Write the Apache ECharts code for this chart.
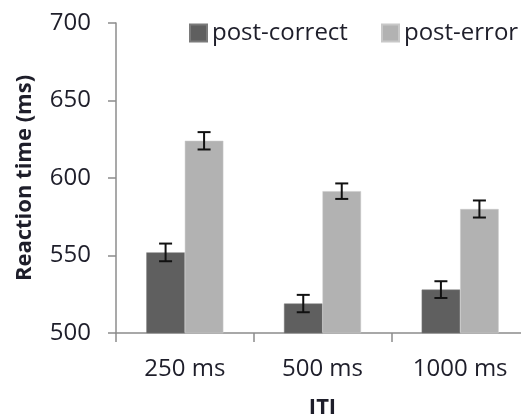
<!DOCTYPE html>
<html>
<head>
<meta charset="utf-8">
<script src="https://cdn.jsdelivr.net/npm/echarts@6/dist/echarts.min.js"></script>
<style>html,body{margin:0;padding:0;background:#fff}#c{width:521px;height:419px}</style>
</head>
<body>
<div id="c"></div>
<script>
const categories = ['250 ms', '500 ms', '1000 ms'];
const postCorrect = [552, 519, 528];
const postCorrectErr = [5.7, 5.6, 5.4];
const postError = [624, 591.5, 580];
const postErrorErr = [5.6, 5.0, 5.5];
const yTicks = [500, 550, 600, 650, 700];

const chart = echarts.init(document.getElementById('c'));
const FONT = 'Open Sans';
const BAR_W = 38.5;
const axisCol = '#8c8c8c';
const txtCol = '#1e1e2a';

function errSeries(name, vals, errs, offset) {
  return {
    type: 'custom',
    name: name + ' err',
    z: 10,
    silent: true,
    data: vals.map((v, i) => [i, v, errs[i]]),
    renderItem: function (params, api) {
      const i = api.value(0), v = api.value(1), e = api.value(2);
      const hi = api.coord([i, v + e]);
      const lo = api.coord([i, v - e]);
      const x = hi[0] + offset;
      const cap = 6.5;
      const st = { stroke: '#111', lineWidth: 2 };
      return {
        type: 'group',
        children: [
          { type: 'line', shape: { x1: x, y1: hi[1], x2: x, y2: lo[1] }, style: st },
          { type: 'line', shape: { x1: x - cap, y1: hi[1], x2: x + cap, y2: hi[1] }, style: st },
          { type: 'line', shape: { x1: x - cap, y1: lo[1], x2: x + cap, y2: lo[1] }, style: st }
        ]
      };
    }
  };
}

const legendBase = {
  itemWidth: 17, itemHeight: 17,
  icon: 'rect',
  top: 16,
  textStyle: { fontFamily: FONT, fontSize: 24, color: txtCol }
};

chart.setOption({
  animation: false,
  textStyle: { fontFamily: FONT },
  grid: { left: 116, top: 23, right: -8, bottom: 86, containLabel: false, outerBoundsMode: 'none' },
  legend: [
    Object.assign({}, legendBase, { data: ['post-correct'], left: 184 }),
    Object.assign({}, legendBase, { data: ['post-error'], left: 376 })
  ],
  xAxis: {
    type: 'category',
    data: categories,
    name: 'ITI',
    nameLocation: 'middle',
    nameGap: 64,
    nameTextStyle: { fontFamily: FONT, fontSize: 22, fontWeight: 'bold', color: txtCol },
    axisLine: { lineStyle: { color: axisCol, width: 1.5 } },
    axisTick: { show: true, length: 9, lineStyle: { color: axisCol, width: 1.5 } },
    axisLabel: { fontFamily: FONT, fontSize: 24, color: txtCol, margin: 24 }
  },
  yAxis: {
    type: 'value',
    min: yTicks[0], max: yTicks[yTicks.length - 1], interval: 50,
    name: 'Reaction time (ms)',
    nameLocation: 'middle',
    nameGap: 80,
    nameTextStyle: { fontFamily: FONT, fontSize: 22, fontWeight: 'bold', color: txtCol },
    axisLine: { show: true, lineStyle: { color: axisCol, width: 1.5 } },
    axisTick: { show: true, length: 8, lineStyle: { color: axisCol, width: 1.5 } },
    splitLine: { show: false },
    axisLabel: { fontFamily: FONT, fontSize: 24, color: txtCol, margin: 25 }
  },
  series: [
    {
      type: 'bar', name: 'post-correct', data: postCorrect,
      barWidth: BAR_W, barGap: '0%',
      itemStyle: { color: '#5f5f5f', borderColor: '#7a7a7a', borderWidth: 0.5 }
    },
    {
      type: 'bar', name: 'post-error', data: postError,
      barWidth: BAR_W, barGap: '0%',
      itemStyle: { color: '#b2b2b2', borderColor: '#c8c8c8', borderWidth: 0.5 }
    },
    errSeries('post-correct', postCorrect, postCorrectErr, -BAR_W / 2),
    errSeries('post-error', postError, postErrorErr, BAR_W / 2)
  ]
});
</script>
</body>
</html>
